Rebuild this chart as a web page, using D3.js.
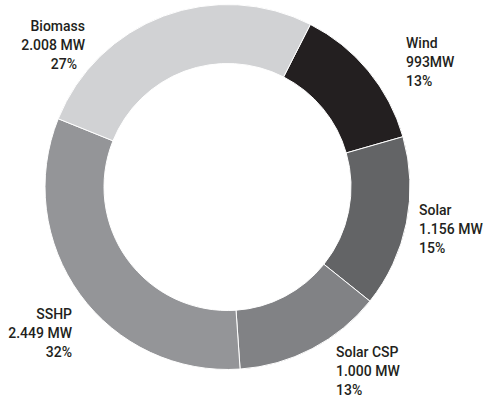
<!DOCTYPE html>
<html><head><meta charset="utf-8">
<script src="https://cdn.jsdelivr.net/npm/d3@7"></script>
<style>
html,body{margin:0;padding:0;background:#fff;}
svg{display:block;}
text{font-family:Roboto,"DejaVu Sans",sans-serif;font-weight:500;font-size:14px;fill:#231f20;}
</style></head>
<body>
<svg id="c" width="485" height="402"></svg>
<script>
const categories = ["Wind", "Solar", "Solar CSP", "SSHP", "Biomass"];
const valuesMW = [993, 1156, 1000, 2449, 2008];
const valueLabels = ["993MW", "1.156 MW", "1.000 MW", "2.449 MW", "2.008 MW"];
const percentLabels = ["13%", "15%", "13%", "32%", "27%"];
const colors = ["#231f20", "#636466", "#818285", "#949598", "#d1d2d4"];

const W = 485, H = 402;
const cx = 227.5, cy = 187, R = 182.5, r = 123.5;
const svg = d3.select("#c");
const g = svg.append("g").attr("transform", `translate(${cx},${cy})`);

const data = categories.map((c, i) => ({cat: c, value: valuesMW[i], vl: valueLabels[i], pl: percentLabels[i], color: colors[i]}));
const pie = d3.pie().value(d => d.value).sort(null).startAngle(27 * Math.PI / 180).endAngle(27 * Math.PI / 180 + 2 * Math.PI);
const arc = d3.arc().innerRadius(r).outerRadius(R);

g.selectAll("path").data(pie(data)).join("path")
  .attr("d", arc)
  .attr("fill", d => d.data.color)
  .attr("stroke", "#fff")
  .attr("stroke-width", 1);

// label layout (positions for each label block)
const layout = {
  "Wind": {x: 406, y: 48, anchor: "start", pdx: 0},
  "Solar": {x: 419, y: 215, anchor: "start", pdx: 0},
  "Solar CSP": {x: 336, y: 357, anchor: "start", pdx: 0},
  "SSHP": {x: 72, y: 319, anchor: "end", pdx: 0},
  "Biomass": {x: 85, y: 31, anchor: "end", pdx: -8}
};
const lh = 19;
data.forEach(d => {
  const L = layout[d.cat];
  const t = svg.append("text").attr("text-anchor", L.anchor);
  t.append("tspan").attr("x", L.x).attr("y", L.y).text(d.cat);
  t.append("tspan").attr("x", L.x).attr("y", L.y + lh).text(d.vl);
  t.append("tspan").attr("x", L.x + L.pdx).attr("y", L.y + 2 * lh).text(d.pl);
});
</script>
</body></html>
